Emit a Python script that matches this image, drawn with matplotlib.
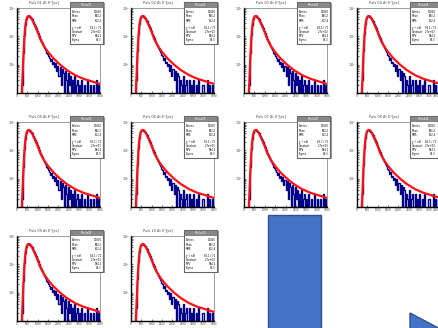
import numpy as np
import matplotlib
matplotlib.use("Agg")
import matplotlib.pyplot as plt
from matplotlib.patches import Rectangle, Polygon
from matplotlib.ticker import FixedLocator, NullFormatter, LogLocator

# titoli dei 10 pannelli
titles = ["Puls 01 \u0394t E\u00b0[ps]", "Puls 02 \u0394t E\u00b0[ps]", "Puls 03 \u0394t E\u00b0[ps]",
          "Puls 04 \u0394t E\u00b0[ps]", "Puls 05 \u0394t E\u00b0[ps]", "Puls 06 \u0394t E\u00b0[ps]",
          "Puls 07 \u0394t E\u00b0[ps]", "Puls 08 \u0394t E\u00b0[ps]", "Puls 09 \u0394t E\u00b0[ps]",
          "Puls 10 \u0394t E\u00b0[ps]"]

# istogramma (80 bin da 0 a 4000)
hist_a = [0, 0, 0, 0, 0, 2, 25, 110, 260, 420, 510, 530, 500, 450, 400, 330, 280, 240, 190, 160,
          130, 105, 82, 70, 58, 47, 40, 34, 27, 24, 20, 17, 14, 16, 11, 13, 8, 12, 6, 9,
          4, 8, 2, 7, 5, 1, 6, 3, 0, 5, 2, 4, 0, 3, 1, 4, 0, 2, 3, 0,
          2, 0, 3, 1, 0, 2, 0, 3, 0, 0, 2, 0, 1, 2, 0, 0, 3, 0, 2, 0]
hist_b = [0, 0, 0, 0, 0, 3, 30, 120, 270, 430, 520, 525, 490, 445, 390, 335, 275, 230, 195, 155,
          125, 100, 85, 68, 55, 50, 38, 33, 29, 22, 21, 15, 17, 12, 13, 9, 11, 6, 10, 4,
          7, 3, 6, 0, 5, 4, 1, 3, 2, 0, 4, 0, 2, 3, 1, 0, 3, 0, 2, 0,
          3, 0, 1, 2, 0, 3, 0, 0, 2, 2, 0, 1, 0, 3, 0, 2, 0, 0, 2, 1]

# curva di fit (rossa)
fit_x = [230, 260, 300, 340, 380, 420, 470, 520, 580, 640, 720, 850, 1000, 1120, 1300, 1500,
         1750, 2080, 2400, 2800, 3200, 3600, 4000]
fit_y = [1, 3, 15, 60, 160, 300, 440, 510, 525, 500, 400, 250, 140, 80, 45, 28,
         17, 10, 6.5, 4.3, 3.2, 2.6, 2.1]

x_ticks = [0, 500, 1000, 1500, 2000, 2500, 3000, 3500, 4000]
stat_names = ["Entries", "Mean", "RMS", "\u03c7\u00b2 / ndf", "Constant", "MPV", "Sigma"]
stat_vals = ["12840", "903.2", "612.4", "85.1 / 71", "2.7e+03", "584.2", "82.3"]

W, H = 439, 328
fig = plt.figure(figsize=(W / 100, H / 100), dpi=100)

col_left = [17, 131, 244, 357]
row_top = [8, 122, 236]
aw, ah = 83, 85
edges = np.linspace(0, 4000, len(hist_a) + 1)

for i, t in enumerate(titles):
    r, c = divmod(i, 4)
    ax = fig.add_axes([col_left[c] / W, 1 - (row_top[r] + ah) / H, aw / W, ah / H])
    h = hist_a if i % 2 == 0 else hist_b
    ax.stairs(np.clip(h, 0.3, None), edges, color="#00008B", lw=1.0)
    ax.plot(fit_x, fit_y, color="#FF1010", lw=1.6)
    ax.set_yscale("log")
    ax.set_ylim(1.01, 1000)
    ax.set_xlim(0, 4000)
    ax.xaxis.set_major_locator(FixedLocator(x_ticks))
    labs = ax.set_xticklabels([str(v) for v in x_ticks], fontsize=2, color="#444444")
    if c == 3:
        # ultima etichetta allineata a destra per non uscire dal bordo
        labs[-1].set_horizontalalignment("right")
    ax.yaxis.set_major_locator(LogLocator(base=10))
    ax.yaxis.set_minor_formatter(NullFormatter())
    ax.tick_params(axis="y", labelsize=2.5, labelcolor="#444444")
    ax.tick_params(which="both", direction="in", length=1.5, width=0.4, pad=1)
    for s in ["left", "bottom"]:
        ax.spines[s].set_linewidth(1.0)
    for s in ["top", "right"]:
        ax.spines[s].set_linewidth(0.5)
        ax.spines[s].set_color("#777777")
    ax.text(0.32, 1.06, t, transform=ax.transAxes, fontsize=2.5, color="#444444",
            ha="center", va="center")

    # riquadro statistiche stile ROOT
    bx0 = 0.64
    bx1 = 1.04 if c < 3 else 0.97
    by0, by1 = 0.575, 1.07
    ax.add_patch(Rectangle((bx0 + 0.015, by0 - 0.015), bx1 - bx0, by1 - by0, transform=ax.transAxes,
                           facecolor="#999999", edgecolor="none", clip_on=False, zorder=5))
    ax.add_patch(Rectangle((bx0, by0), bx1 - bx0, by1 - by0, transform=ax.transAxes,
                           facecolor="white", edgecolor="#666666", lw=0.8, clip_on=False, zorder=6))
    ax.add_patch(Rectangle((bx0, by1 - 0.06), bx1 - bx0, 0.06, transform=ax.transAxes,
                           facecolor="#888888", edgecolor="#666666", lw=0.5, clip_on=False, zorder=7))
    ax.text((bx0 + bx1) / 2, by1 - 0.03, "hPulse%02d" % (i + 1), transform=ax.transAxes,
            fontsize=1.8, color="white", ha="center", va="center", zorder=8)
    ys = [0.95, 0.90, 0.85, 0.77, 0.72, 0.67, 0.62]
    for y, n, v in zip(ys, stat_names, stat_vals):
        ax.text(bx0 + 0.02, y, n, transform=ax.transAxes, fontsize=1.8, va="center", zorder=8)
        ax.text(bx1 - 0.02, y, v, transform=ax.transAxes, fontsize=1.8, va="center", ha="right", zorder=8)

# forme blu in basso a destra
fig.patches.append(Rectangle((268 / W, 1 - 340 / H), 53 / W, 125 / H, transform=fig.transFigure,
                             facecolor="#4472C4", edgecolor="#2F528F", lw=1.0))
tri = [(410, 313), (480, 350), (410, 350)]
fig.patches.append(Polygon([(x / W, 1 - y / H) for x, y in tri], closed=True, transform=fig.transFigure,
                           facecolor="#4472C4", edgecolor="#2F528F", lw=1.0))

fig.savefig("out.png", dpi=100)
